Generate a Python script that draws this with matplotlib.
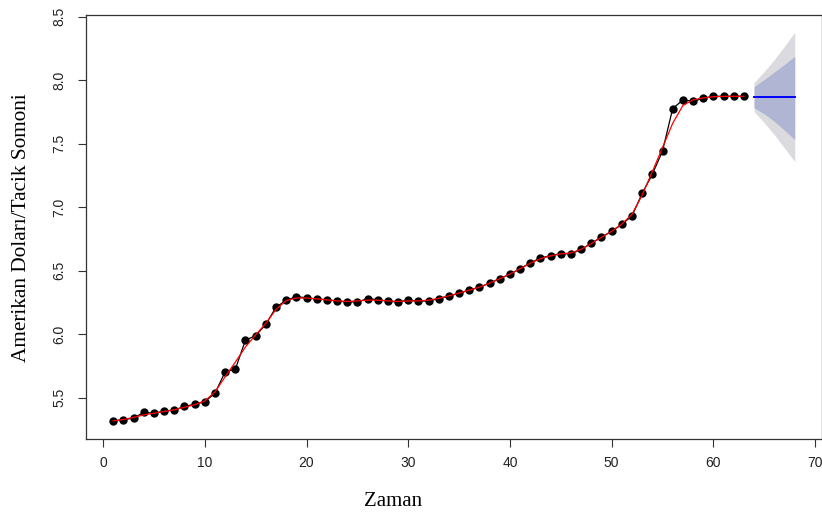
import matplotlib
matplotlib.use("Agg")
import matplotlib.pyplot as plt
import numpy as np

# Observed exchange rate, periods 1..63
periods = list(range(1, 64))
rate = [5.316, 5.327, 5.340, 5.385, 5.377, 5.395, 5.403, 5.432, 5.448, 5.469,
        5.535, 5.704, 5.724, 5.954, 5.988, 6.078, 6.212, 6.267, 6.295, 6.287,
        6.277, 6.272, 6.261, 6.254, 6.254, 6.280, 6.272, 6.260, 6.254, 6.269,
        6.261, 6.261, 6.280, 6.301, 6.322, 6.348, 6.369, 6.403, 6.437, 6.472,
        6.516, 6.561, 6.600, 6.618, 6.635, 6.632, 6.668, 6.716, 6.765, 6.810,
        6.865, 6.931, 7.109, 7.259, 7.442, 7.776, 7.844, 7.834, 7.857, 7.873,
        7.873, 7.873, 7.873]

# Fitted values of the model
fitted = [5.318, 5.328, 5.345, 5.365, 5.378, 5.392, 5.405, 5.425, 5.445, 5.475,
          5.545, 5.665, 5.780, 5.900, 5.995, 6.085, 6.195, 6.265, 6.285, 6.285,
          6.278, 6.270, 6.262, 6.258, 6.262, 6.268, 6.268, 6.262, 6.258, 6.262,
          6.262, 6.268, 6.282, 6.302, 6.324, 6.347, 6.370, 6.402, 6.437, 6.474,
          6.516, 6.558, 6.595, 6.617, 6.632, 6.640, 6.668, 6.714, 6.763, 6.810,
          6.866, 6.945, 7.095, 7.280, 7.470, 7.660, 7.800, 7.845, 7.860, 7.870,
          7.872, 7.873, 7.873]

# Forecast for periods 64..68 with 80% and 95% intervals
fc_periods = [64, 65, 66, 67, 68]
fc_mean = [7.871, 7.871, 7.871, 7.871, 7.871]
lo80 = [7.782, 7.735, 7.675, 7.605, 7.532]
hi80 = [7.950, 8.005, 8.065, 8.125, 8.188]
lo95 = [7.753, 7.665, 7.570, 7.465, 7.358]
hi95 = [7.983, 8.068, 8.163, 8.268, 8.377]

xticks = [0, 10, 20, 30, 40, 50, 60, 70]
yticks = [5.5, 6.0, 6.5, 7.0, 7.5, 8.0, 8.5]

W, H = 822, 516
fig = plt.figure(figsize=(W / 100, H / 100), dpi=100)
ax = fig.add_axes([86 / W, 1 - 439 / H, (822 - 86) / W, (439 - 15) / H])

ax.fill_between(fc_periods, lo95, hi95, color="#dbdbdf", lw=0)
ax.fill_between(fc_periods, lo80, hi80, color="#b1b5d4", lw=0)
ax.plot(fc_periods, fc_mean, color="#0000ff", lw=1.4)

ax.plot(periods, rate, color="black", lw=0.9)
ax.plot(periods, rate, "o", color="black", ms=5)
ax.plot(periods, fitted, color="#ff0000", lw=0.9)

ax.set_xlim(-1.68, 70.68)
ax.set_ylim(5.175, 8.513)
ax.set_xticks(xticks)
ax.set_yticks(yticks)
ax.set_xticklabels([str(v) for v in xticks])
ax.set_yticklabels([f"{v:.1f}" for v in yticks], rotation=90, va="center")

for s in ax.spines.values():
    s.set_linewidth(0.9)
    s.set_color("#333333")
ax.tick_params(axis="both", direction="out", length=6, width=0.8,
               color="#333333", labelcolor="#222222", labelsize=10)
ax.tick_params(axis="x", pad=6.5)
ax.tick_params(axis="y", pad=8)
for lab in ax.get_xticklabels() + ax.get_yticklabels():
    lab.set_family(["Liberation Sans", "DejaVu Sans"])

fig.text(393 / W, 1 - 502 / H, "Zaman", ha="center", va="center",
         fontsize=15, family=["Liberation Serif", "DejaVu Serif"])
fig.text(22 / W, 1 - 228 / H, "Amerikan Doları/Tacik Somoni", ha="center",
         va="center", rotation=90, fontsize=15.3,
         family=["Liberation Serif", "DejaVu Serif"])

fig.savefig("out.png", dpi=100)
